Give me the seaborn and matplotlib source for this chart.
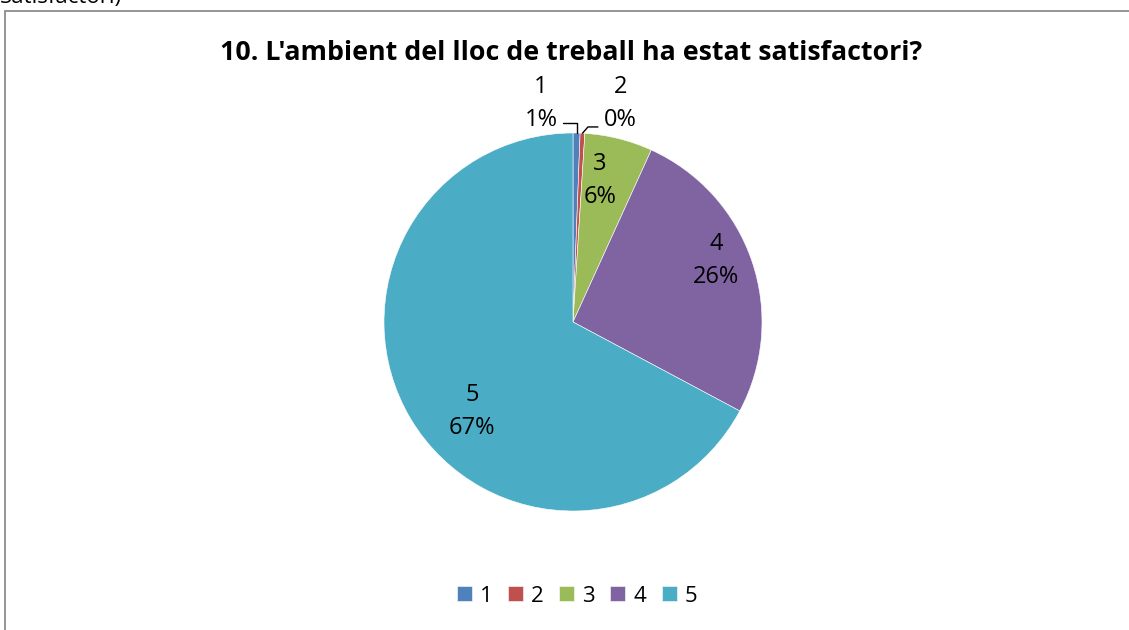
import numpy as np
import matplotlib
matplotlib.use('Agg')
import matplotlib.pyplot as plt
import seaborn as sns
from matplotlib.patches import Rectangle

sns.set_theme(style='white')
plt.rcParams['font.family'] = ['Open Sans', 'DejaVu Sans']
plt.rcParams['text.color'] = 'black'

# Data
categories = ['1', '2', '3', '4', '5']
shares = [0.6, 0.4, 5.8, 26.0, 67.2]
pct_labels = ['1%', '0%', '6%', '26%', '67%']
colors = ['#4F81BD', '#C0504D', '#9BBB59', '#8064A2', '#4BACC6']

W, H = 1129, 630
fig = plt.figure(figsize=(W / 100, H / 100), dpi=100)

# outer chart border (partly cut off, like the screenshot)
fig.patches.append(Rectangle((5 / W, -0.05), 1.1, 1 - 11 / H + 0.05,
                             transform=fig.transFigure, fill=False,
                             edgecolor='#8c8c8c', linewidth=1.3))
fig.text(0.0, 1 + 2 / H, 'Satisfactori)', fontsize=16, va='center', ha='left')

cx, cy, r = 573, 322, 189
ax = fig.add_axes([(cx - r) / W, (H - cy - r) / H, 2 * r / W, 2 * r / H])
wedges, _ = ax.pie(shares, colors=colors, startangle=90, counterclock=False,
                   radius=1, wedgeprops=dict(edgecolor='white', linewidth=0.4))
ax.set_xlim(-1, 1)
ax.set_ylim(-1, 1)
ax.set_aspect('equal')
ax.axis('off')

# label placement (data units, pie radius = 1)
label_pos = {0: (-0.17, 1.155), 1: (0.25, 1.155), 2: (0.143, 0.751),
             3: (0.757, 0.328), 4: (-0.534, -0.471)}
for i in range(len(categories)):
    x, y = label_pos[i]
    ax.text(x, y, categories[i] + '\n' + pct_labels[i], ha='center', va='center',
            fontsize=17, linespacing=1.5, color='black')

# leader lines for the two tiny slices
m0 = np.deg2rad((wedges[0].theta1 + wedges[0].theta2) / 2)
m1 = np.deg2rad((wedges[1].theta1 + wedges[1].theta2) / 2)
ax.plot([np.cos(m0), np.cos(m0), -0.053], [np.sin(m0), 1.053, 1.053],
        color='black', lw=1, clip_on=False)
ax.plot([np.cos(m1), 0.079, 0.132], [np.sin(m1), 1.032, 1.032],
        color='black', lw=1, clip_on=False)

fig.text(571 / W, 1 - 53 / H, "10. L'ambient del lloc de treball ha estat satisfactori?",
         ha='center', va='center', fontsize=19.3, fontweight='bold', color='black')

fig.legend(wedges, categories, loc='center', bbox_to_anchor=(577 / W, 1 - 596 / H),
           ncol=5, frameon=False, fontsize=16, handlelength=0.68, handleheight=0.68,
           handletextpad=0.35, columnspacing=0.7, labelcolor='black')

fig.savefig('out.png', dpi=100, facecolor='white')
